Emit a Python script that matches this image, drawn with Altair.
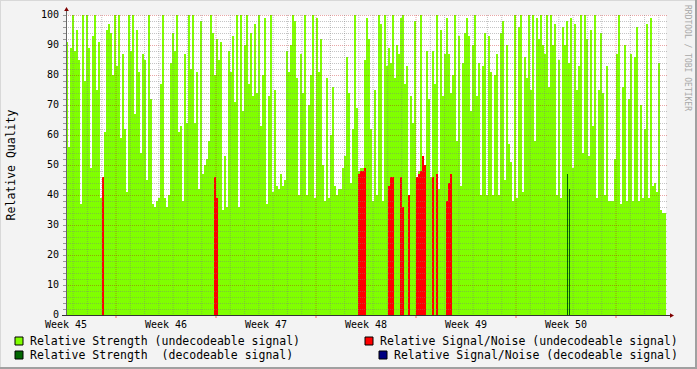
import altair as alt
import pandas as pd

# ---------------- data ----------------
# Relative Strength (undecodeable signal): one value per 2-px column, 50 per week
green_strength = [
    91, 56, 89, 100, 88, 95, 85, 37, 100, 78, 100, 89, 49, 93, 100, 75, 91, 39, 46, 61,
    95, 97, 94, 80, 100, 83, 100, 59, 87, 62, 41, 100, 88, 100, 67, 95, 81, 54, 87, 85,
    45, 100, 72, 37, 36, 38, 39, 77, 100, 39, 36,
    40, 84, 94, 88, 100, 61, 63, 38, 87, 64, 100, 82, 100, 64, 81, 42, 98, 47, 50, 52,
    58, 100, 94, 80, 92, 85, 91, 35, 53, 36, 88, 81, 93, 71, 100, 36, 100, 68, 90, 100,
    77, 94, 73, 97, 74, 100, 63, 80, 99, 37,
    73, 100, 41, 75, 43, 42, 47, 43, 45, 88, 81, 90, 100, 98, 79, 40, 87, 74, 100, 40,
    70, 80, 100, 39, 99, 81, 92, 50, 38, 79, 39, 60, 76, 43, 40, 42, 42, 49, 53, 86,
    74, 44, 62, 100, 69, 48, 49, 49, 85, 99,
    92, 62, 38, 75, 40, 100, 97, 38, 100, 83, 89, 84, 100, 79, 90, 87, 99, 100, 77, 83,
    40, 73, 64, 98, 46, 48, 100, 53, 49, 88, 72, 46, 88, 77, 100, 42, 95, 73, 87, 99,
    87, 74, 80, 100, 58, 93, 43, 84, 94, 99,
    93, 68, 90, 100, 73, 84, 40, 83, 94, 40, 93, 81, 40, 80, 87, 40, 94, 98, 45, 90,
    57, 51, 38, 100, 39, 96, 100, 41, 86, 79, 100, 75, 100, 58, 99, 92, 100, 90, 87, 100,
    76, 100, 90, 97, 40, 85, 39, 96, 90, 98,
    84, 99, 49, 97, 75, 83, 100, 54, 100, 92, 53, 95, 63, 100, 39, 75, 94, 74, 40, 83,
    38, 38, 38, 52, 87, 100, 37, 76, 90, 38, 72, 87, 38, 86, 96, 38, 70, 39, 62, 97,
    39, 99, 43, 44, 41, 84, 35, 34, 34,
]
# Relative Signal/Noise (undecodeable signal): column index and value
red_idx = [18, 74, 75, 146, 147, 148, 149, 161, 162, 163, 167, 168, 171,
           175, 176, 177, 178, 179, 183, 185, 190, 191, 192]
red_snr = [46, 46, 39, 47, 48, 48, 49, 43, 46, 46, 46, 36, 40,
           46, 47, 48, 53, 50, 46, 47, 38, 44, 47]
# Relative Strength (decodeable signal)
dk_idx = [250.5, 251.5]
dk_strength = [47, 42]

week_labels = ["Week 45", "Week 46", "Week 47", "Week 48", "Week 49", "Week 50"]
week_day = [0, 7, 14, 21, 28, 35]
y_ticks = list(range(0, 101, 10))

DAYS_PER_COL = 0.14
MONO = "DejaVu Sans Mono"
NBSP = "\u00a0"

g = pd.DataFrame({
    "t0": [i * DAYS_PER_COL for i in range(len(green_strength))],
    "t1": [(i + 1) * DAYS_PER_COL for i in range(len(green_strength))],
    "v": green_strength,
})
r = pd.DataFrame({
    "t0": [i * DAYS_PER_COL for i in red_idx],
    "t1": [(i + 1) * DAYS_PER_COL for i in red_idx],
    "v": red_snr,
})
d = pd.DataFrame({
    "t0": [i * DAYS_PER_COL for i in dk_idx],
    "t1": [(i + 0.5) * DAYS_PER_COL for i in dk_idx],
    "v": dk_strength,
})

xs = alt.Scale(domain=[0, 42], nice=False, zero=False)
ys = alt.Scale(domain=[0, 100], nice=False)


def bars(df, color):
    return alt.Chart(df).mark_rect(color=color, strokeWidth=0).encode(
        x=alt.X("t0:Q", scale=xs, axis=None),
        x2="t1:Q",
        y=alt.Y("v:Q", scale=ys, axis=None),
        y2=alt.datum(0),
    )


one = pd.DataFrame({"a": [0]})


def txt(s, x, y, **kw):
    return alt.Chart(pd.DataFrame({"s": [s]})).mark_text(font=MONO, **kw).encode(
        text="s:N", x=alt.value(x), y=alt.value(y))


def prule(x, x2, y, y2, color, width=1):
    return alt.Chart(one).mark_rule(color=color, strokeWidth=width).encode(
        x=alt.value(x), x2=alt.value(x2), y=alt.value(y), y2=alt.value(y2))


def box(x, y, color):
    return alt.Chart(one).mark_rect(color=color, stroke="#000000", strokeWidth=1).encode(
        x=alt.value(x), x2=alt.value(x + 8), y=alt.value(y), y2=alt.value(y + 8))


# grids
minor_h = pd.DataFrame({"y": [v for v in range(2, 100, 2) if v % 10]})
major_h = pd.DataFrame({"y": y_ticks})
minor_v = pd.DataFrame({"d": [0.5 + k for k in range(42) if (k - 3) % 7 != 0]})
major_v = pd.DataFrame({"d": [3.5 + 7 * k for k in range(6)]})

hgrid_minor = alt.Chart(minor_h).mark_rule(color="#7f7f7f", opacity=0.45, strokeDash=[1, 1], yOffset=0.5).encode(
    y=alt.Y("y:Q", scale=ys, axis=None), x=alt.value(0), x2=alt.value(602))
hgrid_major = alt.Chart(major_h).mark_rule(color="#c00000", opacity=0.35, strokeDash=[1, 1], yOffset=0.5).encode(
    y=alt.Y("y:Q", scale=ys, axis=None), x=alt.value(0), x2=alt.value(602))
vgrid_minor = alt.Chart(minor_v).mark_rule(color="#7f7f7f", opacity=0.45, strokeDash=[1, 1]).encode(
    x=alt.X("d:Q", scale=xs, axis=None), y=alt.value(0), y2=alt.value(300))
vgrid_major = alt.Chart(major_v).mark_rule(color="#c00000", opacity=0.35, strokeDash=[1, 1]).encode(
    x=alt.X("d:Q", scale=xs, axis=None), y=alt.value(0), y2=alt.value(300))
xticks_major = alt.Chart(major_v).mark_rule(color="#ff0000", opacity=0.6).encode(
    x=alt.X("d:Q", scale=xs, axis=None), y=alt.value(300), y2=alt.value(303))
yticks = alt.Chart(pd.DataFrame({"y": list(range(0, 101, 2))})).mark_rule(color="#999999", yOffset=0.5).encode(
    y=alt.Y("y:Q", scale=ys, axis=None), x=alt.value(-3), x2=alt.value(0))

ylabels = alt.Chart(pd.DataFrame({"y": y_ticks})).mark_text(
    font=MONO, fontSize=10, align="right", baseline="middle", color="#000000").encode(
    y=alt.Y("y:Q", scale=ys, axis=None), x=alt.value(-7), text="y:Q")
xlabels = alt.Chart(pd.DataFrame({"d": week_day, "lab": week_labels})).mark_text(
    font=MONO, fontSize=10, align="center", baseline="alphabetic", color="#000000").encode(
    x=alt.X("d:Q", scale=xs, axis=None), y=alt.value(313), text="lab:N")

yaxis_line = prule(0.5, 0.5, -5, 300, "#666666")
xaxis_line = prule(-4, 604, 300.5, 300.5, "#333333")
arrow_up = alt.Chart(one).mark_point(shape="triangle-up", filled=True, color="#7f0000", size=22, opacity=1).encode(
    x=alt.value(0.5), y=alt.value(-6))
arrow_right = alt.Chart(one).mark_point(shape="triangle-right", filled=True, color="#7f0000", size=22, opacity=1).encode(
    x=alt.value(606), y=alt.value(300.5))

title = txt("Relative Quality", -54, 150, fontSize=11.5, angle=270, align="center", baseline="middle", color="#000000")
watermark = txt("RRDTOOL / TOBI OETIKER", 621, -10, fontSize=8, angle=90, align="left", baseline="middle", color="#a8a8a8")

leg = [
    box(-51, 322, "#80ff00"),
    txt("Relative Strength (undecodeable signal)", -36, 326.5, fontSize=11.5, align="left", baseline="middle", color="#000000"),
    box(-51, 336, "#006600"),
    txt("Relative Strength " + NBSP + "(decodeable signal)", -36, 340.5, fontSize=11.5, align="left", baseline="middle", color="#000000"),
    box(299, 322, "#ff0000"),
    txt("Relative Signal/Noise (undecodeable signal)", 314, 326.5, fontSize=11.5, align="left", baseline="middle", color="#000000"),
    box(313, 336, "#000080"),
    txt("Relative Signal/Noise (decodeable signal)", 328, 340.5, fontSize=11.5, align="left", baseline="middle", color="#000000"),
]

frame = [
    prule(-66, 631, -14.5, -14.5, "#d8d8d8", 1),
    prule(-65.5, -65.5, -15, 354, "#d8d8d8", 1),
    prule(-66, 631, 353, 353, "#a0a0a0", 2),
    prule(630, 630, -15, 354, "#a0a0a0", 2),
]

chart = alt.layer(
    bars(g, "#80ff00"),
    bars(r, "#ff0000"),
    bars(d, "#006600"),
    hgrid_minor, hgrid_major, vgrid_minor, vgrid_major,
    xticks_major, yticks,
    yaxis_line, xaxis_line, arrow_up, arrow_right,
    ylabels, xlabels, title, watermark,
    *leg, *frame,
).properties(
    width=600, height=300,
    autosize=alt.AutoSizeParams(type="none"),
    padding={"left": 66, "top": 15, "right": 31, "bottom": 54},
    background="#f3f3f3",
).configure_view(stroke=None, fill="#ffffff")

chart.save("out.html", embed_options={"renderer": "svg", "actions": False})
